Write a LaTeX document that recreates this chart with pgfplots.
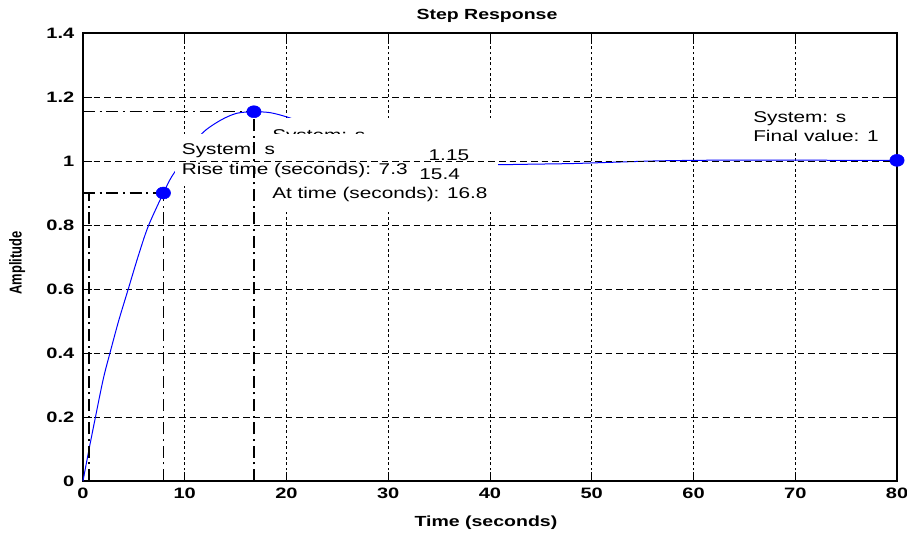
\documentclass[border=0pt]{standalone}
\usepackage{fontspec}
\setmainfont{Liberation Sans}[FakeStretch=1.33]
\newfontfamily\plainsans{Liberation Sans}
\usepackage{graphicx}
\usepackage{pgfplots}
\usepackage{pgfplotstable}
\pgfplotsset{compat=1.18}

\definecolor{mblue}{RGB}{0,0,255}

% step response
\pgfplotstableread{
t y
0 0
0.6 0.1
1.2 0.196
2.0 0.32
2.65 0.40
3.5 0.50
4.45 0.60
5.4 0.70
6.4 0.795
7.9 0.90
8.7 0.95
10 1.01
11.7 1.086
13.5 1.127
15.1 1.149
16.8 1.154
18.4 1.151
20 1.138
22 1.115
25 1.075
28 1.04
31 1.012
34 0.995
37 0.988
40 0.988
44 0.99
48 0.992
52 0.996
56 1.0
60 1.002
65 1.003
70 1.003
75 1.002
80 1.002
}\steptable

\begin{document}
\begin{tikzpicture}[
    dashdot/.style={black, line width=1pt, dash pattern=on 9pt off 3.5pt on 1.5pt off 3.5pt},
    anno/.style={font=\fontsize{11.7}{14}\selectfont, anchor=base west, inner sep=0pt},
]
\useasboundingbox (-62.25pt,-39pt) rectangle (618pt,360.75pt);
\begin{axis}[
    at={(0,0)}, anchor=south west,
    scale only axis, width=610.5pt, height=336pt,
    xmin=0, xmax=80, ymin=0, ymax=1.4,
    clip=false,
    xtick={0,10,20,30,40,50,60,70,80},
    ytick={0,0.2,0.4,0.6,0.8,1,1.2,1.4},
    tick align=inside,
    major tick length=7pt,
    tick style={black, line width=0.7pt},
    axis line style={black, line width=0.8pt},
    grid=major,
    major x grid style={black, line width=0.65pt, dash pattern=on 2pt off 2pt},
    major y grid style={black, line width=0.65pt, dash pattern=on 5pt off 3pt},
    /pgf/number format/assume math mode=true,
    ticklabel style={font=\bfseries\fontsize{11.3}{13}\selectfont},
    yticklabel style={xshift=-3pt},
    xticklabel style={yshift=-1.5pt},
    xlabel={\bfseries Time (seconds)},
    xlabel style={font=\fontsize{11}{13}\selectfont, at={(axis description cs:0.495,-0.093)}, anchor=center, yshift=0pt},
    ylabel={\scalebox{1}[1.33]{\plainsans\bfseries\fontsize{9.7}{11}\selectfont Amplitude}},
    ylabel style={at={(axis description cs:-0.081,0.487)}, anchor=center},
]

% title
\node[font=\bfseries\fontsize{11}{13}\selectfont, anchor=center]
    at (rel axis cs:0.4963,1.038) {Step Response};

% response curve
\addplot[mblue, line width=0.75pt, smooth, no marks] table[x=t, y=y] {\steptable};

% rise time guides
\addplot[dashdot] coordinates {(0,0.9) (7.9,0.9)};
\addplot[dashdot] coordinates {(0.6,0) (0.6,0.9)};
\addplot[dashdot] coordinates {(7.9,0) (7.9,0.9)};
% peak guide
\addplot[dashdot] coordinates {(0,1.154) (16.8,1.154)};

% data tips
\fill[white] (axis cs:17.69,0.847) rectangle (axis cs:40.79,1.134);
\node[anno] at (axis cs:18.575,1.0641) {System: s};
\node[anno] at (axis cs:18.575,1.0031) {Peak amplitude: 1.15};
\node[anno] at (axis cs:18.575,0.9422) {Overshoot (\%): 15.4};
\node[anno] at (axis cs:18.575,0.8813) {At time (seconds): 16.8};

\fill[white] (axis cs:9.04,0.922) rectangle (axis cs:33.02,1.084);
\node[anno] at (axis cs:9.70,1.0188) {System: s};
\node[anno] at (axis cs:9.70,0.9578) {Rise time (seconds): 7.3};

\fill[white] (axis cs:65.06,1.025) rectangle (axis cs:79.3,1.19);
\node[anno] at (axis cs:65.85,1.1203) {System: s};
\node[anno] at (axis cs:65.85,1.0594) {Final value: 1};

% lines that sit over the tips
\addplot[black, line width=0.65pt, dash pattern=on 5pt off 3pt] coordinates {(0,1) (80,1)};
\addplot[dashdot] coordinates {(16.8,0) (16.8,1.154)};

% markers
\addplot[only marks, mark=*, mark size=4.5pt,
    mark options={fill=mblue, draw=mblue, xscale=1.2}]
    coordinates {(7.9,0.9) (16.8,1.154) (80,1.002)};
\end{axis}
\end{tikzpicture}
\end{document}
